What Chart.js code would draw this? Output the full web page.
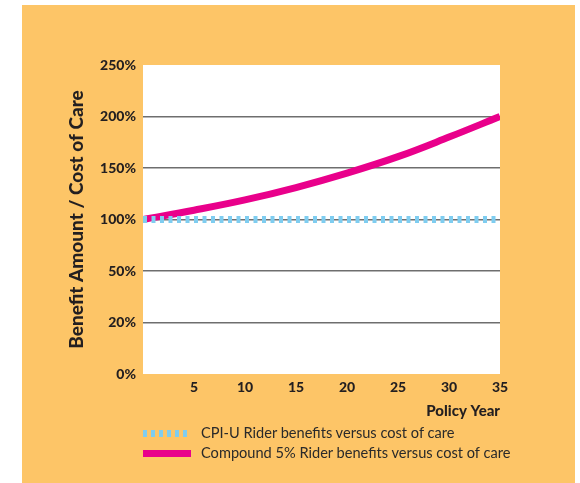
<!DOCTYPE html>
<html>
<head>
<meta charset="utf-8">
<script src="https://cdn.jsdelivr.net/npm/chart.js@4/dist/chart.umd.min.js"></script>
<style>
  html, body { margin: 0; padding: 0; background: #ffffff; }
  #wrap { position: relative; width: 580px; height: 483px; overflow: hidden; }
  #bg { position: absolute; left: 22px; top: 5px; width: 553px; height: 478px; background: #fdc567; }
  #c { position: absolute; left: 0; top: 0; }
  .leg { position: absolute; left: 143px; font-family: Lato, "Open Sans", sans-serif; font-size: 14.6px; color: #2a2a2a; white-space: nowrap; }
  .leg .sw { position: absolute; left: 0; width: 48px; height: 7px; }
  .leg .tx { position: absolute; left: 58px; line-height: 16px; }
</style>
</head>
<body>
<div id="wrap">
  <div id="bg"></div>
  <canvas id="c" width="580" height="483"></canvas>
  <div class="leg" style="top:425px;">
    <div class="sw" style="top:5px; background: repeating-linear-gradient(90deg, #7fcdf0 0 4px, transparent 4px 8px);"></div>
    <div class="tx" id="leg0" style="top:0px;"></div>
  </div>
  <div class="leg" style="top:445px;">
    <div class="sw" style="top:5px; background:#e9008b;"></div>
    <div class="tx" id="leg1" style="top:0px;"></div>
  </div>
</div>
<script>
// ---- Data ----
const YEARS = [0, 5, 10, 15, 20, 25, 30, 35];
const CPI_U = [100, 100, 100, 100, 100, 100, 100, 100];
const COMPOUND_5 = [100, 109, 119, 131, 145, 161, 180, 200];
const Y_TICK_VALUES = [0, 20, 50, 100, 150, 200, 250];
const Y_TICK_LABELS = ['0%', '20%', '50%', '100%', '150%', '200%', '250%'];
const SERIES_NAMES = ['CPI-U Rider benefits versus cost of care', 'Compound 5% Rider benefits versus cost of care'];
const X_TITLE = 'Policy Year';
const Y_TITLE = 'Benefit Amount / Cost of Care';

document.getElementById('leg0').textContent = SERIES_NAMES[0];
document.getElementById('leg1').textContent = SERIES_NAMES[1];

// Axis uses evenly spaced tick positions; map a percentage onto that position scale
function toPos(p) {
  for (let i = 0; i < Y_TICK_VALUES.length - 1; i++) {
    const a = Y_TICK_VALUES[i], b = Y_TICK_VALUES[i + 1];
    if (p <= b) return i + (p - a) / (b - a);
  }
  return Y_TICK_VALUES.length - 1;
}
const pts = arr => YEARS.map((x, i) => ({ x: x, y: toPos(arr[i]) }));

const DARK = '#231f20';
const whitePlot = {
  id: 'whitePlot',
  beforeDraw(chart) {
    const a = chart.chartArea, ctx = chart.ctx;
    ctx.save();
    ctx.fillStyle = '#ffffff';
    ctx.fillRect(a.left, a.top, a.right - a.left, a.bottom - a.top);
    ctx.restore();
  }
};

new Chart(document.getElementById('c'), {
  type: 'line',
  data: {
    datasets: [
      {
        label: SERIES_NAMES[0],
        data: pts(CPI_U),
        borderColor: '#7fcdf0',
        borderWidth: 7,
        borderDash: [4, 4.5],
        borderCapStyle: 'butt',
        pointRadius: 0,
        clip: 0,
        fill: false
      },
      {
        label: SERIES_NAMES[1],
        data: pts(COMPOUND_5),
        borderColor: '#e9008b',
        borderWidth: 7,
        borderCapStyle: 'butt',
        tension: 0.4,
        pointRadius: 0,
        clip: 0,
        fill: false
      }
    ]
  },
  options: {
    responsive: false,
    animation: false,
    devicePixelRatio: 1,
    layout: { padding: { left: 58, top: 65, right: 80, bottom: 63 } },
    plugins: { legend: { display: false }, tooltip: { enabled: false } },
    scales: {
      x: {
        type: 'linear',
        min: 0, max: 35,
        afterFit(s) { s.height = 46; },
        border: { display: false },
        grid: { display: false, drawTicks: false },
        ticks: {
          stepSize: 5,
          padding: 5,
          color: DARK,
          font: { family: 'Lato', size: 14, weight: '900' },
          callback: v => (v === 0 ? '' : String(v))
        },
        title: {
          display: true,
          text: X_TITLE,
          align: 'end',
          color: DARK,
          padding: { top: 0, bottom: 0 },
          font: { family: 'Lato', size: 15, weight: '900' }
        }
      },
      y: {
        type: 'linear',
        min: 0, max: Y_TICK_VALUES.length - 1,
        afterFit(s) { s.width = 85; },
        border: { display: false },
        grid: {
          drawTicks: false,
          lineWidth: 1.5,
          color: c => (c.tick && (c.tick.value === 0 || c.tick.value === Y_TICK_VALUES.length - 1)) ? 'rgba(0,0,0,0)' : '#6e6e6e'
        },
        ticks: {
          stepSize: 1,
          padding: 7,
          color: DARK,
          font: { family: 'Lato', size: 14, weight: '900' },
          callback: v => Y_TICK_LABELS[v] || ''
        },
        title: {
          display: true,
          text: Y_TITLE,
          color: DARK,
          padding: { top: 7, bottom: 0 },
          font: { family: 'Lato', size: 19, weight: '900' }
        }
      }
    }
  },
  plugins: [whitePlot]
});
</script>
</body>
</html>
